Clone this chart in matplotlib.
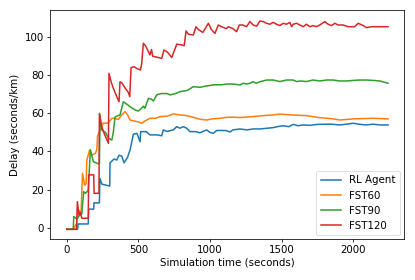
import matplotlib
matplotlib.use("Agg")
import matplotlib.pyplot as plt

labels = ["RL Agent", "FST60", "FST90", "FST120"]
colors = ["#1f77b4", "#ff7f0e", "#2ca02c", "#d62728"]

rl_t = [0, 75, 79, 150, 153, 188, 190, 228, 231, 245, 300, 302, 330, 349, 365, 384, 400, 425, 442, 452, 465, 490, 512, 516, 555, 581, 630, 663, 674, 700, 744, 768, 790, 814, 837, 860, 900, 930, 977, 1000, 1023, 1047, 1080, 1110, 1140, 1160, 1209, 1260, 1300, 1350, 1400, 1442, 1470, 1512, 1550, 1581, 1616, 1650, 1700, 1750, 1800, 1850, 1907, 1950, 2000, 2040, 2090, 2140, 2190, 2244]
rl_y = [-0.9, -0.9, 1.9, 1.9, 9.7, 9.7, 13, 13, 25.9, 22.8, 21.8, 34, 36, 35.5, 38, 37.5, 34, 37, 40.8, 44.3, 49, 49.5, 45.1, 50.4, 50.4, 48.7, 48.7, 48.2, 51.3, 50.5, 51.3, 53, 52.2, 53, 52.2, 50.4, 50.4, 49.8, 51.3, 50, 49.5, 51, 51, 51, 50.2, 51.3, 51.8, 51.3, 51.8, 51.8, 52.2, 52.5, 53, 53.5, 53, 54.2, 53.5, 53.9, 53.7, 54.2, 54.3, 54.3, 53.9, 54.3, 54.8, 54.3, 53.9, 54.3, 53.9, 53.9]

f60_t = [0, 50, 55, 70, 80, 100, 110, 125, 135, 140, 160, 175, 200, 210, 215, 225, 240, 255, 267, 290, 314, 337, 360, 384, 407, 425, 442, 470, 500, 523, 546, 581, 620, 651, 700, 744, 790, 837, 884, 930, 977, 1023, 1070, 1117, 1163, 1209, 1300, 1370, 1442, 1488, 1558, 1674, 1760, 1860, 1907, 2000, 2140, 2244]
f60_y = [-0.9, -0.9, 0.5, 2.3, 9.3, 8, 28.5, 22.3, 23, 35.5, 40.8, 38, 39, 41, 48, 50, 52, 55, 54.8, 55, 57.4, 57.4, 56.8, 59.2, 60.9, 59.2, 56.5, 56, 55.5, 54.8, 56, 57.4, 57.4, 58.3, 58.5, 59.7, 59.2, 58.8, 57.9, 56.9, 56.5, 57.2, 57.4, 57.9, 58, 57.8, 58.3, 58.8, 59.2, 59.6, 59.2, 58.8, 57.8, 57.1, 56.5, 57.1, 57.4, 57.1]

f90_t = [0, 45, 49, 70, 90, 105, 118, 130, 150, 165, 186, 221, 228, 232, 245, 270, 291, 302, 315, 325, 337, 349, 372, 395, 420, 442, 477, 500, 520, 535, 546, 570, 590, 605, 628, 660, 700, 721, 760, 791, 840, 884, 930, 977, 1030, 1080, 1117, 1163, 1209, 1232, 1256, 1279, 1302, 1325, 1349, 1395, 1442, 1488, 1535, 1581, 1605, 1630, 1674, 1720, 1767, 1814, 1860, 1907, 1953, 2000, 2046, 2093, 2140, 2186, 2244]
f90_y = [-0.9, -0.9, 5.8, 4.5, 6.5, 7, 18.9, 18, 19.5, 40.8, 34.6, 33.5, 33.5, 59.2, 51.3, 50, 47, 46.5, 46, 50, 58, 58.5, 59.2, 66.1, 64.8, 63.5, 61.8, 61.2, 62.5, 63.8, 62.7, 67.9, 67.5, 66.5, 69.7, 70.4, 70.4, 69.7, 70.4, 71.4, 72, 74, 73.7, 74.4, 75, 75, 75.4, 75.4, 74.9, 75.8, 75.4, 75.8, 76.6, 75.8, 76.6, 77.5, 77.5, 76.7, 77.5, 77.5, 76.7, 77, 76.7, 77.5, 77, 77.5, 77.5, 77, 77, 77.3, 77.5, 77.5, 77.3, 77, 75.8]

f120_t = [0, 68, 74, 85, 95, 105, 150, 153, 188, 191, 225, 228, 240, 256, 275, 291, 295, 310, 325, 349, 365, 372, 385, 410, 430, 440, 449, 470, 490, 515, 523, 535, 550, 581, 592, 600, 630, 663, 679, 705, 733, 768, 800, 820, 833, 850, 884, 902, 920, 950, 989, 1010, 1035, 1058, 1080, 1115, 1128, 1160, 1186, 1205, 1230, 1255, 1279, 1302, 1326, 1349, 1372, 1395, 1419, 1442, 1465, 1488, 1512, 1535, 1558, 1570, 1581, 1605, 1628, 1651, 1674, 1698, 1720, 1744, 1767, 1802, 1825, 1849, 1872, 1895, 1930, 1965, 2010, 2035, 2070, 2093, 2128, 2163, 2244]
f120_y = [-0.9, -0.9, 13.6, 6.7, 8, 4.9, 4.9, 27.7, 27.7, 18, 18, 60, 54, 50.4, 47, 44.3, 81, 76.5, 73.2, 68.8, 66.1, 76.6, 76, 73, 71, 68.8, 84, 84.5, 83.5, 82.8, 86, 96.8, 95.5, 90.7, 93.5, 90, 89.5, 88.9, 93.3, 92, 89.3, 96.3, 96, 95.5, 103.3, 101.5, 101.2, 105.5, 104, 102.5, 107.3, 104, 102, 106.4, 105.5, 104.5, 105.5, 104.5, 102.9, 106.4, 106.4, 105.5, 108.2, 106.4, 105.8, 108.5, 108.2, 107.3, 106.8, 107.8, 106.8, 106.1, 107.3, 106.8, 107.8, 105.5, 106.8, 107.3, 106.4, 105.5, 106.8, 105.5, 106.1, 105.5, 106.4, 108.2, 106.8, 106.1, 107.3, 106.4, 106.4, 105.5, 105.5, 107.3, 106.1, 105, 105.5, 105.5, 105.5]

series_t = [rl_t, f60_t, f90_t, f120_t]
series_y = [rl_y, f60_y, f90_y, f120_y]

plt.rcParams['font.family'] = ['DejaVu Sans']
fs = 7.4
fig = plt.figure(figsize=(4.15, 2.8), dpi=100)
ax = fig.add_axes([0.1205, 0.1464, 0.853, 0.818])
for t, y, lab, c in zip(series_t, series_y, labels, colors):
    ax.plot(t, y, color=c, lw=1.1, label=lab)
ax.set_xlim(-117, 2355)
ax.set_ylim(-6, 114.3)
ax.set_xticks([0, 500, 1000, 1500, 2000])
ax.set_yticks([0, 20, 40, 60, 80, 100])
ax.tick_params(labelsize=fs, width=0.55, length=2.4, pad=2)
for s in ax.spines.values():
    s.set_linewidth(0.55)
ax.set_xlabel("Simulation time (seconds)", fontsize=fs, labelpad=2)
ax.set_ylabel("Delay (seconds/km)", fontsize=fs, labelpad=3)
leg = ax.legend(loc="lower right", fontsize=fs, frameon=True, handlelength=2.0,
                borderpad=0.4, labelspacing=0.5, borderaxespad=0.4)
leg.get_frame().set_linewidth(0.55)
fig.savefig("out.png", dpi=100)
